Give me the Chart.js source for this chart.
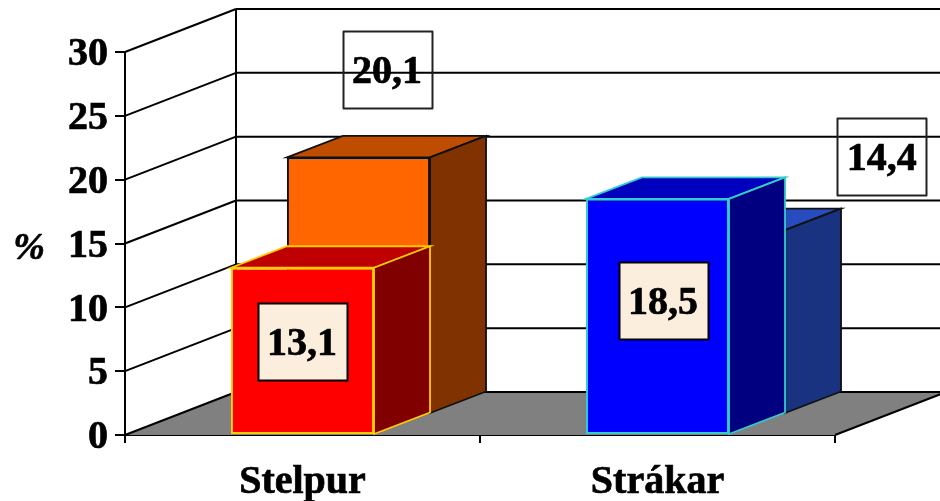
<!DOCTYPE html>
<html><head><meta charset="utf-8">
<style>html,body{margin:0;padding:0;background:#fff}canvas{display:block}</style>
<script src="https://cdn.jsdelivr.net/npm/chart.js@4/dist/chart.umd.min.js"></script>
</head><body><canvas id="c" width="940" height="501"></canvas>
<script>
const categories = ['Stelpur', 'Strákar'];
const frontValues = [13.1, 18.5];
const backValues = [20.1, 14.4];
const frontLabels = ['13,1', '18,5'];
const backLabels = ['20,1', '14,4'];
const yTicks = [0, 5, 10, 15, 20, 25, 30];
const axisTitle = '%';

const frontFace = ['#FF0000', '#0000FF'];
const frontTop = ['#BF0000', '#0000BF'];
const frontSide = ['#800000', '#000080'];
const frontEdge = ['#FFCC00', '#33CCCC'];
const backFace = ['#FF6600', '#3366FF'];
const backTop = ['#BF4D00', '#264CBF'];
const backSide = ['#803300', '#1A3380'];
const backEdge = ['#111111', '#111111'];

const FONT = '"Liberation Serif", "Times New Roman", serif';
const wallDepth = {x: 111, y: -43};
const barDepth = {x: 56, y: -21.5};
const backShift = {x: 56, y: -21};
const labelBox = {w: 89, h: 77};
const frontLabelOffset = [{x: -0.5, y: 74}, {x: 5.5, y: 101.7}];
const backLabelOffset = [{x: 84.5, y: -108.6}, {x: 224.3, y: -94.7}];
const TEXT_STROKE = 0.7;

function poly(ctx, pts, fill, stroke, lw) {
  ctx.beginPath();
  pts.forEach((p, i) => i ? ctx.lineTo(p[0], p[1]) : ctx.moveTo(p[0], p[1]));
  ctx.closePath();
  if (fill) { ctx.fillStyle = fill; ctx.fill(); }
  if (stroke) { ctx.strokeStyle = stroke; ctx.lineWidth = lw; ctx.lineJoin = 'miter'; ctx.stroke(); }
}
function seg(ctx, x1, y1, x2, y2) {
  ctx.beginPath(); ctx.moveTo(x1, y1); ctx.lineTo(x2, y2); ctx.stroke();
}
function heavyText(ctx, s, x, y) {
  ctx.fillStyle = '#000';
  ctx.strokeStyle = '#000';
  ctx.lineWidth = TEXT_STROKE;
  ctx.lineJoin = 'round';
  ctx.fillText(s, x, y);
  ctx.strokeText(s, x, y);
}

const walls3d = {
  id: 'walls3d',
  beforeDatasetsDraw(chart) {
    const {ctx, scales: {x, y}} = chart;
    const l = x.left, r = x.right, y0 = y.getPixelForValue(0);
    const far = chart.width + 10;
    ctx.save();
    poly(ctx, [[l, y0], [r, y0], [r + wallDepth.x, y0 + wallDepth.y], [l + wallDepth.x, y0 + wallDepth.y]], '#808080');
    ctx.strokeStyle = '#000'; ctx.lineWidth = 2;
    yTicks.forEach(v => {
      const p = y.getPixelForValue(v);
      seg(ctx, l, p, l + wallDepth.x, p + wallDepth.y);
      seg(ctx, l + wallDepth.x, p + wallDepth.y, far, p + wallDepth.y);
    });
    seg(ctx, l + wallDepth.x, y.getPixelForValue(30) + wallDepth.y, l + wallDepth.x, y0 + wallDepth.y);
    seg(ctx, r, y0, r + wallDepth.x, y0 + wallDepth.y);
    ctx.restore();
  },
  beforeDatasetDraw(chart, args) {
    const ctx = chart.ctx;
    ctx.save();
    if (args.index === 1) ctx.translate(backShift.x, backShift.y);
  },
  afterDatasetDraw(chart, args) {
    const ctx = chart.ctx;
    const ds = chart.data.datasets[args.index];
    args.meta.data.forEach((el, i) => {
      const hw = el.width / 2, a = el.x - hw, b = el.x + hw, t = el.y, bot = el.base;
      const dx = barDepth.x, dy = barDepth.y, edge = ds.borderColor[i];
      poly(ctx, [[a, t], [b, t], [b + dx, t + dy], [a + dx, t + dy]], ds.topColors[i], edge, 1.8);
      poly(ctx, [[b, t], [b + dx, t + dy], [b + dx, bot + dy], [b, bot]], ds.sideColors[i], edge, 1.8);
    });
    ctx.restore();
  },
  afterDatasetsDraw(chart) {
    const ctx = chart.ctx;
    ctx.save();
    chart.data.datasets.forEach((ds, di) => {
      chart.getDatasetMeta(di).data.forEach((el, i) => {
        const o = ds.labelOffsets[i];
        const cx = el.x + o.x, cy = el.y + o.y;
        const filled = di === 0;
        const bx = Math.round(cx - labelBox.w / 2) + 0.5, by = Math.round(cy - labelBox.h / 2) + 0.5;
        if (filled) { ctx.fillStyle = '#FBEEDC'; ctx.fillRect(bx, by, labelBox.w, labelBox.h); }
        ctx.strokeStyle = filled ? '#000' : '#222';
        ctx.lineWidth = 2;
        ctx.strokeRect(bx, by, labelBox.w, labelBox.h);
        ctx.font = 'bold 40px ' + FONT;
        ctx.textAlign = 'center'; ctx.textBaseline = 'middle';
        heavyText(ctx, ds.valueLabels[i], cx, cy + 3);
      });
    });
    ctx.font = 'italic bold 38px ' + FONT;
    ctx.textAlign = 'center'; ctx.textBaseline = 'middle';
    heavyText(ctx, axisTitle, 29, 249);
    ctx.restore();
  }
};

new Chart(document.getElementById('c'), {
  type: 'bar',
  data: {
    labels: categories,
    datasets: [
      {data: frontValues, backgroundColor: frontFace, borderColor: frontEdge, topColors: frontTop, sideColors: frontSide, valueLabels: frontLabels, labelOffsets: frontLabelOffset},
      {data: backValues, backgroundColor: backFace, borderColor: backEdge, topColors: backTop, sideColors: backSide, valueLabels: backLabels, labelOffsets: backLabelOffset}
    ].map(d => Object.assign(d, {borderWidth: 2, borderSkipped: false, clip: false, barPercentage: 0.403, categoryPercentage: 1, grouped: false}))
  },
  options: {
    responsive: false,
    animation: false,
    events: [],
    layout: {padding: {left: 0, top: 52, right: 105, bottom: 0}},
    plugins: {legend: {display: false}, tooltip: {enabled: false}},
    scales: {
      x: {
        z: 1,
        afterFit(s) { s.height = 66; },
        grid: {drawOnChartArea: false, color: '#000', lineWidth: 2, tickLength: 8},
        border: {display: true, color: '#000', width: 2},
        ticks: {color: '#000', maxRotation: 0, padding: 16, textStrokeColor: '#000', textStrokeWidth: TEXT_STROKE, font: {family: FONT, size: 40, weight: 'bold'}}
      },
      y: {
        z: 1,
        min: 0, max: 30,
        afterFit(s) { s.width = 125; },
        afterBuildTicks(s) { s.ticks = yTicks.map(v => ({value: v})); },
        grid: {drawOnChartArea: false, color: '#000', lineWidth: 2, tickLength: 10},
        border: {display: true, color: '#000', width: 2},
        ticks: {color: '#000', padding: 7, labelOffset: 3, textStrokeColor: '#000', textStrokeWidth: TEXT_STROKE, font: {family: FONT, size: 40, weight: 'bold'}}
      }
    }
  },
  plugins: [walls3d]
});
</script></body></html>
